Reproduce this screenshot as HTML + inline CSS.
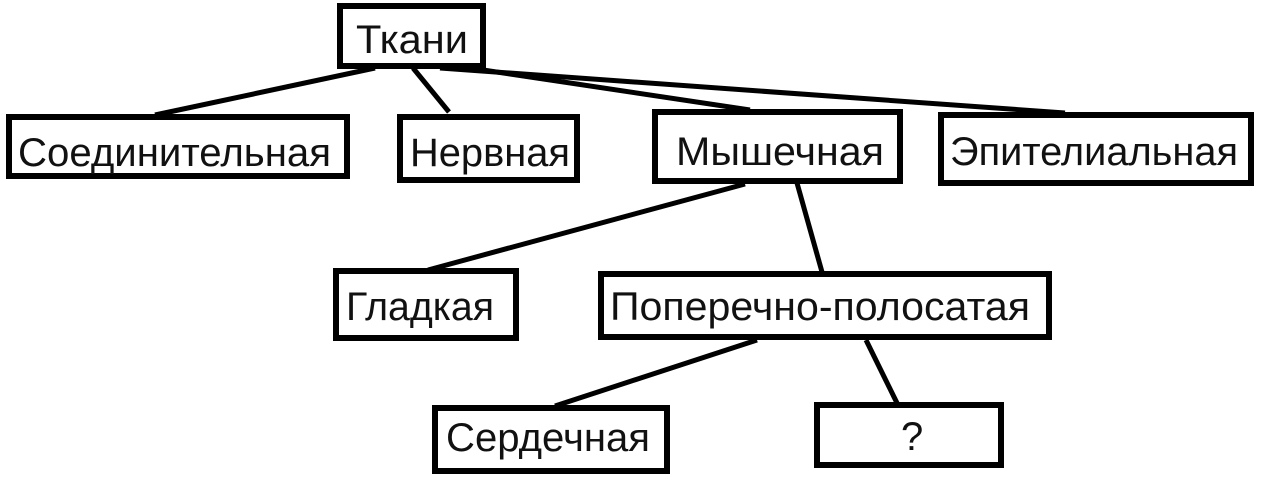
<!DOCTYPE html>
<html><head><meta charset="utf-8"><style>html,body{margin:0;padding:0;background:#fff;}svg{display:block}</style></head>
<body>
<svg width="1280" height="483" viewBox="0 0 1280 483" xmlns="http://www.w3.org/2000/svg">
<g stroke="#000" stroke-width="5" fill="none">
<line x1="375" y1="68" x2="155" y2="115"/>
<line x1="413" y1="68" x2="449" y2="112"/>
<line x1="470" y1="68" x2="750" y2="110"/>
<line x1="440" y1="68" x2="1065" y2="113"/>
<line x1="745" y1="184" x2="428" y2="270"/>
<line x1="797" y1="183" x2="822" y2="272"/>
<line x1="757" y1="340" x2="555" y2="406"/>
<line x1="866" y1="340" x2="897" y2="403"/>
</g>
<g stroke="#000" stroke-width="6" fill="#fff">
<rect x="340" y="6" width="143" height="60"/>
<rect x="9" y="117" width="338" height="59"/>
<rect x="400" y="117" width="177" height="63"/>
<rect x="655" y="112" width="245" height="69"/>
<rect x="941" y="115" width="310" height="68"/>
<rect x="336" y="271" width="180" height="67"/>
<rect x="601" y="274" width="448" height="63"/>
<rect x="435" y="408" width="232" height="63"/>
<rect x="817" y="405" width="184" height="60"/>
</g>
<g font-family="'Liberation Sans','DejaVu Sans',sans-serif" font-size="40" fill="#111">
<text x="356" y="53" textLength="112" lengthAdjust="spacingAndGlyphs">Ткани</text>
<text x="18" y="166" textLength="313" lengthAdjust="spacingAndGlyphs">Соединительная</text>
<text x="410" y="166" textLength="160" lengthAdjust="spacingAndGlyphs">Нервная</text>
<text x="676" y="165" textLength="208" lengthAdjust="spacingAndGlyphs">Мышечная</text>
<text x="950" y="165" textLength="288" lengthAdjust="spacingAndGlyphs">Эпителиальная</text>
<text x="346" y="320" textLength="148" lengthAdjust="spacingAndGlyphs">Гладкая</text>
<text x="610" y="320" textLength="420" lengthAdjust="spacingAndGlyphs">Поперечно-полосатая</text>
<text x="446" y="451" textLength="204" lengthAdjust="spacingAndGlyphs">Сердечная</text>
<text x="901" y="450">?</text>
</g>
</svg>
</body></html>
